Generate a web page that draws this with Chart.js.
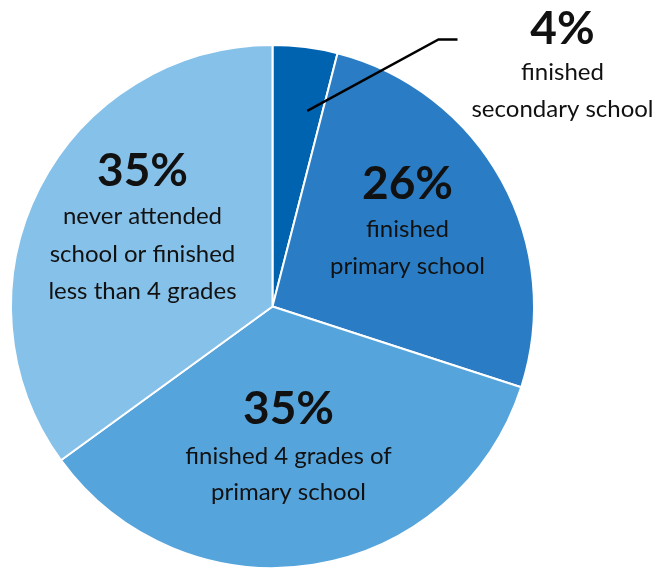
<!DOCTYPE html>
<html><head><meta charset="utf-8">
<script src="https://cdn.jsdelivr.net/npm/chart.js@4"></script>
<style>html,body{margin:0;padding:0;background:#fff}#wrap{width:657px;height:569px;position:relative}</style>
</head><body><div id="wrap"><canvas id="c" width="657" height="569"></canvas></div>
<script>
const categories = ["finished secondary school","finished primary school","finished 4 grades of primary school","never attended school or finished less than 4 grades"];
const values = [4, 26, 35, 35];
const pctLabels = ["4%", "26%", "35%", "35%"];
const descLines = [["finished","secondary school"],["finished","primary school"],["finished 4 grades of","primary school"],["never attended","school or finished","less than 4 grades"]];
const colors = ["#0063b0","#2a7dc5","#56a4dc","#86c1e9"];

// label anchor offsets from pie centre (px)
const labelPos = [
  {x:290, y:-277, lines:[{x:290,y:-234},{x:290,y:-197}]},
  {x:135, y:-122, lines:[{x:135,y:-77},{x:135,y:-40}]},
  {x:16, y:103, lines:[{x:16,y:150},{x:16,y:186}]},
  {x:-130, y:-135, lines:[{x:-130,y:-90},{x:-130,y:-52},{x:-130,y:-15}]}
];

const labelPlugin = {
  id:'labels',
  afterDatasetsDraw(chart){
    const ctx = chart.ctx;
    const meta = chart.getDatasetMeta(0);
    const a0 = meta.data[0];
    const cx = a0.x, cy = a0.y, R = a0.outerRadius;
    ctx.save();
    ctx.fillStyle = '#111';
    ctx.textAlign = 'center';
    ctx.textBaseline = 'middle';
    labelPos.forEach((p,i)=>{
      ctx.font = 'bold 46px Lato';
      ctx.fillText(pctLabels[i], cx+p.x, cy+p.y);
      ctx.font = '24px Lato';
      descLines[i].forEach((t,j)=>ctx.fillText(t, cx+p.lines[j].x, cy+p.lines[j].y));
    });
    // leader line for small slice
    const mid = (a0.startAngle + a0.endAngle)/2 + 0.05;
    const sx = cx + Math.cos(mid)*R*0.76, sy = cy + Math.sin(mid)*R*0.76;
    ctx.strokeStyle = '#000'; ctx.lineWidth = 2.5;
    ctx.beginPath(); ctx.moveTo(sx, sy); ctx.lineTo(cx+166, cy-267); ctx.lineTo(cx+185, cy-267); ctx.stroke();
    ctx.restore();
  }
};

new Chart(document.getElementById('c'), {
  type:'pie',
  data:{labels:categories, datasets:[{data:values, backgroundColor:colors, borderColor:'#fff', borderWidth:2}]},
  options:{
    responsive:false, animation:false,
    layout:{padding:{left:9, right:121, top:44, bottom:0}},
    plugins:{legend:{display:false}, tooltip:{enabled:false}}
  },
  plugins:[labelPlugin]
});
</script></body></html>
